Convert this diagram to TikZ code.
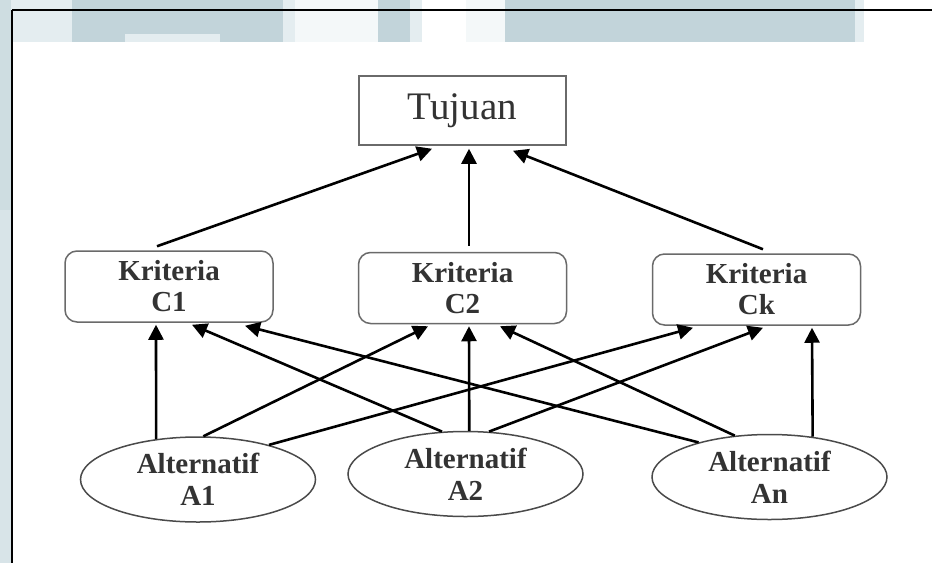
\documentclass[tikz,border=0pt]{standalone}
\usepackage{fontspec}
\setmainfont{Liberation Serif}
\usetikzlibrary{arrows.meta,shapes.geometric,calc}
\definecolor{band}{HTML}{C2D4DA}
\definecolor{bandlt}{HTML}{E4EDF0}
\definecolor{bandwh}{HTML}{F4F8F9}
\definecolor{strip}{HTML}{D8E4E8}
\definecolor{boxline}{HTML}{6A6A6A}
\definecolor{ellline}{HTML}{4A4A4A}
\definecolor{txt}{HTML}{333333}
\tikzset{
  tjbox/.style={draw=boxline, line width=1.5pt, rectangle, minimum width=207pt,
    minimum height=69pt, inner sep=0pt, text=txt,
    font=\fontsize{39}{39}\selectfont},
  kbox/.style={draw=boxline, line width=1.5pt, rectangle, rounded corners=12pt,
    minimum width=208pt, minimum height=71pt, inner sep=0pt, align=center,
    text=txt, font=\bfseries\fontsize{29}{31}\selectfont},
  abox/.style={draw=ellline, line width=1.5pt, ellipse, minimum width=235pt,
    minimum height=85pt, inner sep=0pt, align=center,
    text=txt, font=\bfseries\fontsize{29}{32}\selectfont},
  arr/.style={line width=2.6pt, -{Triangle[length=15pt,width=15pt]}},
  frameline/.style={line width=2pt, black}
}
\begin{document}
\begin{tikzpicture}[x=1pt,y=-1pt]
\useasboundingbox (0,0) rectangle (932,563);
% background decoration
\fill[white] (0,0) rectangle (932,563);
\fill[strip] (0,0) rectangle (11,563);
\fill[band!80!white] (0,0) rectangle (11,210);
\fill[bandlt] (11,0) rectangle (72,42);
\fill[band] (72,0) rectangle (283,42);
\fill[bandlt] (125,34) rectangle (220,42);
\fill[bandlt] (283,0) rectangle (295,42);
\fill[bandwh] (295,0) rectangle (378,42);
\fill[band] (378,0) rectangle (410,42);
\fill[bandlt] (410,0) rectangle (422,42);
\fill[bandwh] (466,0) rectangle (505,42);
\fill[band] (505,0) rectangle (855,42);
\fill[bandlt] (855,0) rectangle (864,42);
% frame
\draw[frameline] (12,10) -- (932,10);
\draw[frameline] (12,10) -- (12,563);
% nodes
\node[tjbox] (tujuan) at (462.5,110.5) {Tujuan};
\node[kbox] (c1) at (169,286.5) {Kriteria\\C1};
\node[kbox] (c2) at (462.5,288) {Kriteria\\C2};
\node[kbox] (ck) at (756.5,289.5) {Kriteria\\Ck};
\node[abox] (a1) at (198,479.5) {Alternatif\\A1};
\node[abox] (a2) at (465.5,474) {Alternatif\\A2};
\node[abox] (an) at (769.5,477) {Alternatif\\An};
% criteria to goal
\draw[arr] ($(c1.north)+(-12,-4)$) -- ($(tujuan.south)+(-30.5,3)$);
\draw[arr] ($(c2.north)+(6.5,-6)$) -- ($(tujuan.south)+(6.5,3)$);
\draw[arr] ($(ck.north)+(6.5,-4)$) -- ($(tujuan.south)+(50.5,5)$);
% alternatives to criteria
\draw[arr] (a1.136.6) -- ($(c1.south)+(-13,2)$);
\draw[arr] (a2.119.2) -- ($(c1.south)+(23,2)$);
\draw[arr] (an.154) -- ($(c1.south)+(76,3)$);
\draw[arr] (a1.83.3) -- ($(c2.south)+(-34.5,2)$);
\draw[arr] (a2.85.3) -- ($(c2.south)+(6.5,2)$);
\draw[arr] (an.130.7) -- ($(c2.south)+(37.5,2)$);
\draw[arr] (a1.26.4) -- ($(ck.south)+(-63.5,2)$);
\draw[arr] (a2.61.9) -- ($(ck.south)+(6.5,2)$);
\draw[arr] (an.43.6) -- ($(ck.south)+(55.5,2)$);
\end{tikzpicture}
\end{document}
